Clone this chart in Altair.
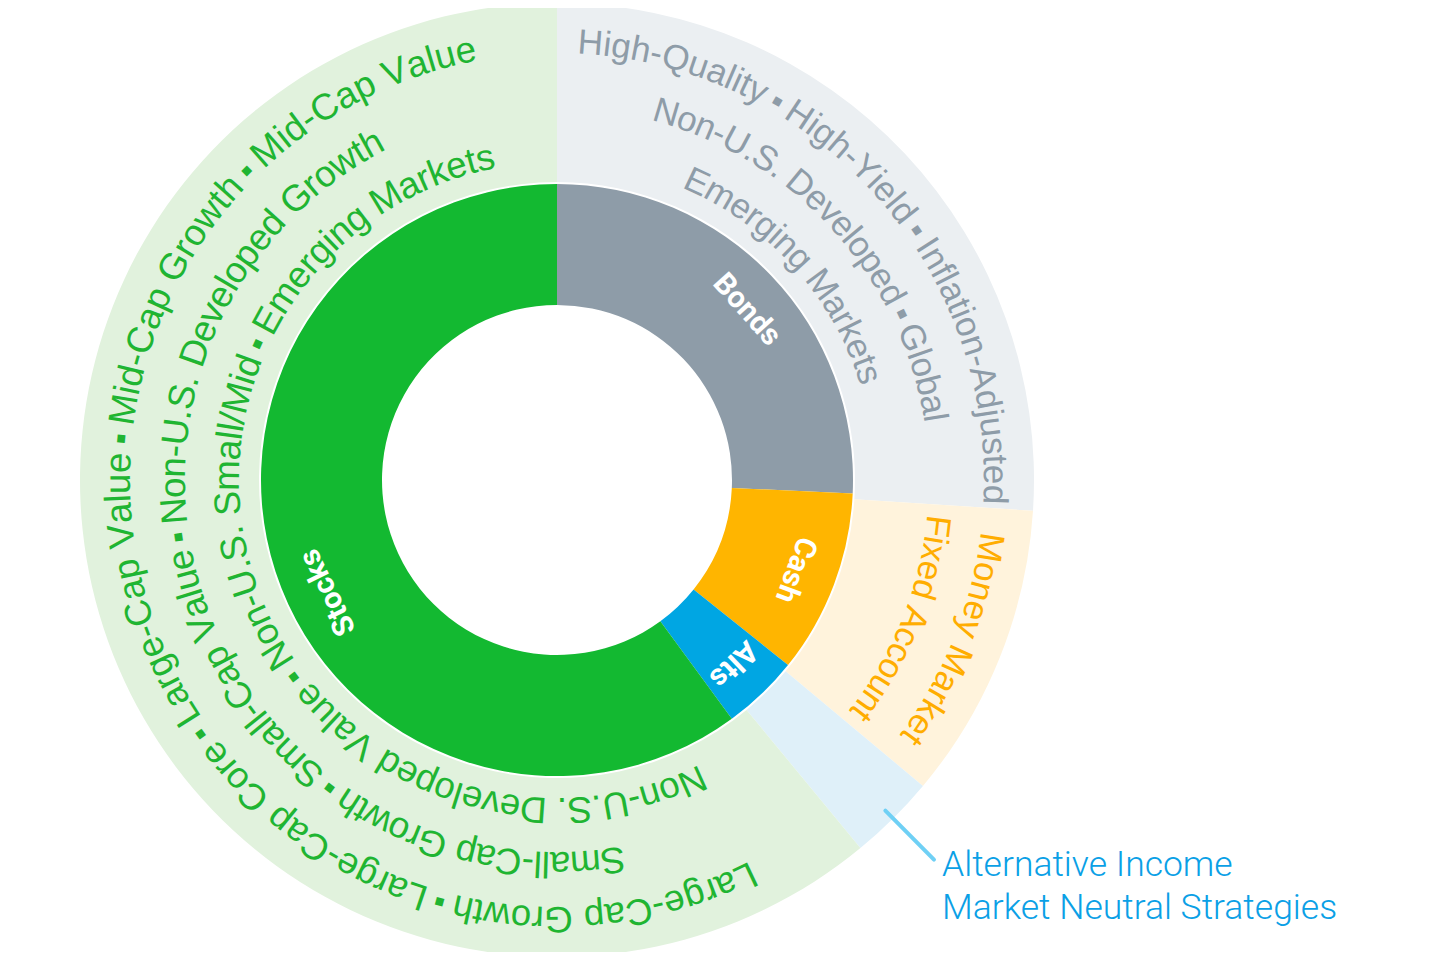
import math
import altair as alt
import pandas as pd

# ---------------- data ----------------
groups = ["Bonds", "Cash", "Alts", "Stocks"]
inner_share = [92.6, 36.1, 15.1, 216.2]   # degrees of the inner ring
outer_share = [93.7, 36.2, 10.6, 219.5]   # degrees of the outer ring

inner_colors = ["#8e9ca8", "#ffb500", "#00a6e3", "#13b931"]
outer_colors = ["#ebeff2", "#fff3dc", "#dff0f9", "#e1f2dd"]
text_colors = ["#8e9ca8", "#ffad00", "#0aa0e6", "#1fb532"]

bonds_lines = [
    ["High-Quality", "High-Yield", "Inflation-Adjusted"],
    ["Non-U.S. Developed", "Global"],
    ["Emerging Markets"],
]
cash_lines = [["Money Market"], ["Fixed Account"]]
alts_lines = []
stocks_lines = [
    ["Large-Cap Growth", "Large-Cap Core", "Large-Cap Value", "Mid-Cap Growth", "Mid-Cap Value"],
    ["Small-Cap Growth", "Small-Cap Value", "Non-U.S. Developed Growth"],
    ["Non-U.S. Developed Value", "Non-U.S. Small/Mid", "Emerging Markets"],
]
sub_lines = [bonds_lines, cash_lines, alts_lines, stocks_lines]
alts_callout = ["Alternative Income", "Market Neutral Strategies"]

# ---------------- layout / style ----------------
CX, CY = 549, 472
R_HOLE, R_IN, R_OUT0, R_OUT = 175, 296, 298, 477
LINE_R = [427, 372, 318]
LINE_TRACK = [1.0, 0.965, 0.972]
FS = {"Bonds": 35, "Cash": 35, "Alts": 35, "Stocks": 36.8}
TEXT_NUDGE = {"Bonds": 1.1, "Stocks": 1.0}
SEP_ADV = 720          # advance (1/1000 em) of " ▪ "
SQ_FS, SQ_LIFT = 16, 6
LABEL_R = 255
LABEL_NUDGE = {"Stocks": -8, "Bonds": 1.8}

# Helvetica / Arial advance widths (1/1000 em)
ADV = {' ': 278, '-': 333, '.': 278, '/': 278,
       'A': 667, 'C': 722, 'D': 722, 'E': 667, 'F': 611, 'G': 778, 'H': 722, 'I': 278,
       'L': 556, 'M': 833, 'N': 722, 'Q': 778, 'S': 667, 'U': 722, 'V': 667, 'Y': 667,
       'a': 556, 'b': 556, 'c': 500, 'd': 556, 'e': 556, 'f': 278, 'g': 556, 'h': 556,
       'i': 222, 'j': 222, 'k': 500, 'l': 222, 'm': 833, 'n': 556, 'o': 556, 'p': 556,
       'r': 333, 's': 500, 't': 278, 'u': 556, 'v': 500, 'w': 722, 'x': 500, 'y': 500}


def cum_bounds(vals):
    out, c = [], 0.0
    for v in vals:
        out.append((c, c + v))
        c += v
    return out


inner_b = cum_bounds(inner_share)
outer_b = cum_bounds(outer_share)

df_in = pd.DataFrame({"g": groups, "deg": inner_share, "idx": range(4), "fill": inner_colors})
df_out = pd.DataFrame({"g": groups, "deg": outer_share, "idx": range(4), "fill": outer_colors})

# curved texts: one row per character, placed by angle along the ring
rows = []
for gi, g in enumerate(groups):
    fs = FS[g]
    center = (outer_b[gi][0] + outer_b[gi][1]) / 2 + TEXT_NUDGE.get(g, 0)
    for li, items in enumerate(sub_lines[gi]):
        r = LINE_R[li]
        k_adv = fs / 1000.0 * LINE_TRACK[li]
        seq = []
        for k, item in enumerate(items):
            if k:
                seq.append(("SEP", SEP_ADV))
            for ch in item:
                seq.append((ch, ADV[ch]))
        total = sum(a for _, a in seq) * k_adv
        start = center - math.degrees(total / r) / 2
        cum = 0.0
        for ch, a in seq:
            th = (start + math.degrees((cum + a / 2) * k_adv / r)) % 360
            cum += a
            if ch == ' ':
                continue
            if ch == "SEP":
                rows.append(dict(ch="■", t=th, r=r + SQ_LIFT, rot=th, fs=SQ_FS, col=text_colors[gi]))
            else:
                rows.append(dict(ch=ch, t=th, r=r, rot=th, fs=fs, col=text_colors[gi]))
df_chars = pd.DataFrame(rows)

lab = []
for gi, g in enumerate(groups):
    th = (inner_b[gi][0] + inner_b[gi][1]) / 2 + LABEL_NUDGE.get(g, 0)
    lab.append(dict(txt=g, t=th, r=LABEL_R, rot=th))
df_lab = pd.DataFrame(lab)

# callout for Alts
a_mid = math.radians((outer_b[2][0] + outer_b[2][1]) / 2)
r1, r2 = 466, 535
x1, y1 = CX + r1 * math.sin(a_mid), CY - r1 * math.cos(a_mid)
x2, y2 = CX + r2 * math.sin(a_mid), CY - r2 * math.cos(a_mid)
df_lead = pd.DataFrame({"x1": [x1], "y1": [y1], "x2": [x2], "y2": [y2]})
df_call = pd.DataFrame({"x": [x2 + 8], "y": [y2 + 16], "txt": ["\n".join(alts_callout)]})

theta_scale = alt.Scale(domain=[0, 360], range=[0, 2 * math.pi])
rad_scale = alt.Scale(type="linear", domain=[0, 1000], range=[0, 1000])

ring_out = alt.Chart(df_out).mark_arc(radius=R_OUT, radius2=R_OUT0).encode(
    theta=alt.Theta("deg:Q", scale=theta_scale, stack=True),
    order=alt.Order("idx:Q"),
    color=alt.Color("fill:N", scale=None),
    x=alt.value(CX), y=alt.value(CY),
)
ring_in = alt.Chart(df_in).mark_arc(radius=R_IN, radius2=R_HOLE).encode(
    theta=alt.Theta("deg:Q", scale=theta_scale, stack=True),
    order=alt.Order("idx:Q"),
    color=alt.Color("fill:N", scale=None),
    x=alt.value(CX), y=alt.value(CY),
)
chars = alt.Chart(df_chars).mark_text(
    font="Liberation Sans", align="center", baseline="alphabetic"
).encode(
    theta=alt.Theta("t:Q", scale=theta_scale),
    radius=alt.Radius("r:Q", scale=rad_scale),
    angle=alt.Angle("rot:Q", scale=None),
    size=alt.Size("fs:Q", scale=None),
    color=alt.Color("col:N", scale=None),
    text="ch:N",
    x=alt.value(CX), y=alt.value(CY),
)
labels = alt.Chart(df_lab).mark_text(
    font="Roboto", fontWeight="bold", fontSize=30, color="white",
    align="center", baseline="middle"
).encode(
    theta=alt.Theta("t:Q", scale=theta_scale),
    radius=alt.Radius("r:Q", scale=rad_scale),
    angle=alt.Angle("rot:Q", scale=None),
    text="txt:N",
    x=alt.value(CX), y=alt.value(CY),
)
leader = alt.Chart(df_lead).mark_rule(strokeWidth=4, strokeCap="round", color="#6fd0f5").encode(
    x=alt.X("x1:Q", scale=None, axis=None), y=alt.Y("y1:Q", scale=None, axis=None),
    x2="x2:Q", y2="y2:Q",
)
callout = alt.Chart(df_call).mark_text(
    font="Roboto", fontWeight=300, fontSize=35.5, lineHeight=43, color="#0aa0e6",
    align="left", baseline="alphabetic", lineBreak="\n"
).encode(
    x=alt.X("x:Q", scale=None, axis=None), y=alt.Y("y:Q", scale=None, axis=None),
    text="txt:N",
)

chart = alt.layer(ring_out, ring_in, chars, labels, leader, callout).properties(
    width=1424, height=944, padding=0,
    autosize=alt.AutoSizeParams(type="none"),
    background="white",
).configure_view(stroke=None)

chart.save("out.html", embed_options={"renderer": "svg", "actions": False})
